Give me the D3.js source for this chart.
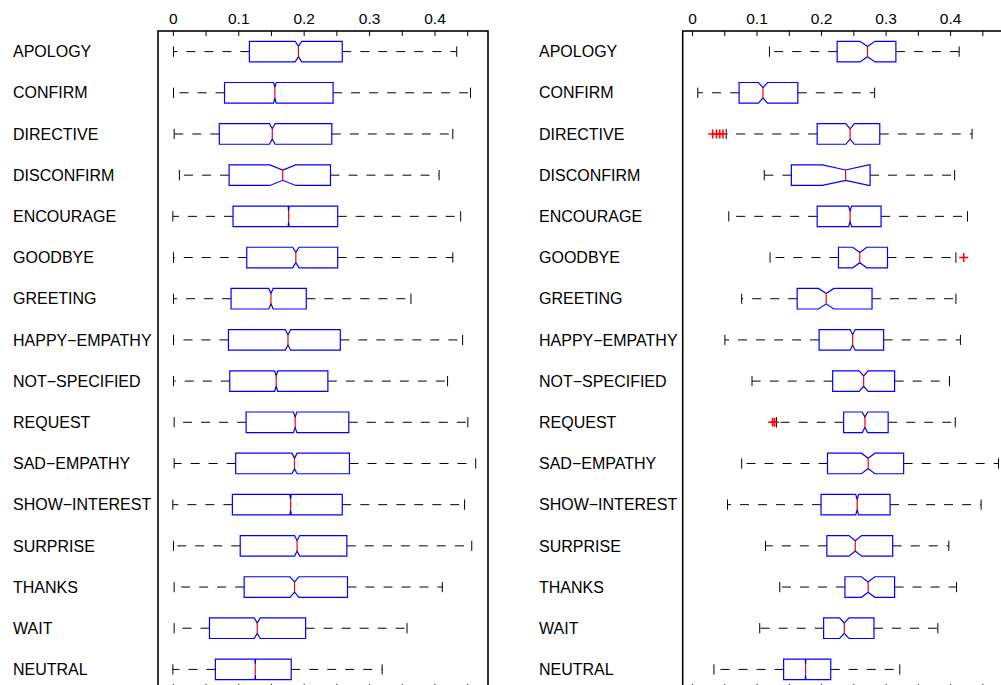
<!DOCTYPE html>
<html lang="en">
  <head>
    <meta charset="utf-8" />
    <title>Notched boxplots</title>
    <script type="text/javascript" src="https://cdn.jsdelivr.net/npm/d3@7"></script>
    <style type="text/css">
      body { margin: 0; background: #fff; }
      svg { display: block; }
    </style>
  </head>
  <body>
    <script type="text/javascript">
      //Width and height
      var w = 1001;
      var h = 685;

      var categories = [
        "APOLOGY", "CONFIRM", "DIRECTIVE", "DISCONFIRM", "ENCOURAGE", "GOODBYE",
        "GREETING", "HAPPY\u2212EMPATHY", "NOT\u2212SPECIFIED", "REQUEST",
        "SAD\u2212EMPATHY", "SHOW\u2212INTEREST", "SURPRISE", "THANKS", "WAIT", "NEUTRAL"
      ];
      var tickLabels = ["0", "0.1", "0.2", "0.3", "0.4"];

      // left panel
      var leftLo = [0.001, 0.001, 0.002, 0.010, 0.000, 0.001, 0.001, 0.001, 0.001, 0.002, 0.002, 0.000, 0.001, 0.002, 0.002, 0.000];
      var leftQ1 = [0.117, 0.079, 0.071, 0.086, 0.092, 0.113, 0.089, 0.085, 0.087, 0.112, 0.096, 0.091, 0.103, 0.109, 0.056, 0.065];
      var leftMed = [0.192, 0.156, 0.152, 0.168, 0.177, 0.188, 0.150, 0.176, 0.158, 0.187, 0.186, 0.180, 0.190, 0.186, 0.129, 0.126];
      var leftQ3 = [0.259, 0.245, 0.243, 0.241, 0.252, 0.252, 0.204, 0.256, 0.237, 0.269, 0.270, 0.259, 0.266, 0.267, 0.203, 0.181];
      var leftHi = [0.434, 0.455, 0.428, 0.407, 0.440, 0.428, 0.364, 0.443, 0.420, 0.451, 0.463, 0.446, 0.457, 0.412, 0.358, 0.320];
      var leftNotch = [0.0050, 0.0020, 0.0043, 0.0197, 0.0008, 0.0049, 0.0034, 0.0042, 0.0023, 0.0026, 0.0039, 0.0011, 0.0039, 0.0069, 0.0046, 0.0005];
      var leftOutliers = [[], [], [], [], [], [], [], [], [], [], [], [], [], [], [], []];

      // right panel
      var rightLo = [0.120, 0.009, 0.053, 0.112, 0.057, 0.121, 0.077, 0.051, 0.093, 0.131, 0.077, 0.055, 0.114, 0.136, 0.105, 0.034];
      var rightQ1 = [0.225, 0.073, 0.194, 0.154, 0.194, 0.227, 0.163, 0.197, 0.218, 0.235, 0.210, 0.200, 0.209, 0.237, 0.204, 0.142];
      var rightMed = [0.272, 0.110, 0.245, 0.238, 0.245, 0.260, 0.208, 0.249, 0.266, 0.268, 0.273, 0.256, 0.253, 0.273, 0.236, 0.176];
      var rightQ3 = [0.316, 0.164, 0.291, 0.276, 0.293, 0.303, 0.279, 0.297, 0.314, 0.304, 0.328, 0.307, 0.311, 0.314, 0.282, 0.215];
      var rightHi = [0.414, 0.283, 0.434, 0.407, 0.427, 0.409, 0.409, 0.416, 0.399, 0.408, 0.475, 0.448, 0.398, 0.410, 0.381, 0.322];
      var rightNotch = [0.0116, 0.0070, 0.0067, 0.0357, 0.0023, 0.0109, 0.0119, 0.0039, 0.0070, 0.0042, 0.0104, 0.0023, 0.0098, 0.0104, 0.0073, 0.0005];
      var rightOutliers = [[], [], [0.032, 0.038, 0.043, 0.048], [], [], [0.421], [], [], [], [0.125, 0.128], [], [], [], [], [], []];

      var panels = [
        { lo: leftLo, q1: leftQ1, med: leftMed, q3: leftQ3, hi: leftHi, notch: leftNotch, out: leftOutliers,
          left: 158, right: 488, domain: [-0.0227, 0.4818], labelX: 13 },
        { lo: rightLo, q1: rightQ1, med: rightMed, q3: rightQ3, hi: rightHi, notch: rightNotch, out: rightOutliers,
          left: 682.7, right: 1012.7, domain: [-0.0144, 0.497], labelX: 539 }
      ];

      var frameTop = 31;
      var frameBottom = 690;

      //Create SVG element
      var svg = d3
        .select("body")
        .append("svg")
        .attr("width", w)
        .attr("height", h);

      var yScale = d3.scaleLinear().domain([0.5, 16.5]).range([frameTop, frameBottom]);

      var tickVals = d3.range(10).map(function (i) { return i * 0.05; });

      panels.forEach(function (p) {
        var xScale = d3.scaleLinear().domain(p.domain).range([p.left, p.right]);
        var g = svg.append("g");

        //Top axis with labels
        var topAxis = d3
          .axisTop(xScale)
          .tickValues(tickVals)
          .tickSize(-5)
          .tickPadding(7.5)
          .tickFormat(function (d, i) {
            return i % 2 === 0 ? tickLabels[i / 2] : "";
          });
        var ta = g.append("g").attr("transform", "translate(0," + frameTop + ")").call(topAxis);
        ta.select(".domain").remove();
        ta.selectAll("text")
          .attr("font-family", "'Liberation Sans', Arial, sans-serif")
          .attr("font-size", "15.5px")
          .attr("fill", "#000");
        ta.selectAll("line").attr("stroke", "#000");

        //Bottom ticks
        var botAxis = d3.axisBottom(xScale).tickValues(tickVals).tickSize(-6).tickFormat("");
        var ba = g.append("g").attr("transform", "translate(0," + frameBottom + ")").call(botAxis);
        ba.select(".domain").remove();
        ba.selectAll("line").attr("stroke", "#000");

        //Frame
        g.append("rect")
          .attr("x", p.left)
          .attr("y", frameTop)
          .attr("width", p.right - p.left)
          .attr("height", frameBottom - frameTop)
          .attr("fill", "none")
          .attr("stroke", "#000")
          .attr("stroke-width", 1.6);

        //Category labels
        g.selectAll("text.cat")
          .data(categories)
          .enter()
          .append("text")
          .attr("class", "cat")
          .text(function (d) { return d; })
          .attr("x", p.labelX)
          .attr("y", function (d, i) { return yScale(i + 1) + 5.7; })
          .attr("font-family", "'Liberation Sans', Arial, sans-serif")
          .attr("font-size", "16px")
          .attr("fill", "#000");

        var rows = categories.map(function (c, i) { return i; });

        //Whiskers
        g.selectAll("line.wlo")
          .data(rows)
          .enter()
          .append("line")
          .attr("x1", function (i) { return xScale(p.q1[i]); })
          .attr("x2", function (i) { return xScale(p.lo[i]); })
          .attr("y1", function (i) { return yScale(i + 1); })
          .attr("y2", function (i) { return yScale(i + 1); })
          .attr("stroke", "#000")
          .attr("stroke-dasharray", "9,9");
        g.selectAll("line.whi")
          .data(rows)
          .enter()
          .append("line")
          .attr("x1", function (i) { return xScale(p.q3[i]); })
          .attr("x2", function (i) { return xScale(p.hi[i]); })
          .attr("y1", function (i) { return yScale(i + 1); })
          .attr("y2", function (i) { return yScale(i + 1); })
          .attr("stroke", "#000")
          .attr("stroke-dasharray", "9,9");

        //Caps
        ["lo", "hi"].forEach(function (k) {
          g.selectAll("line.cap" + k)
            .data(rows)
            .enter()
            .append("line")
            .attr("x1", function (i) { return xScale(p[k][i]); })
            .attr("x2", function (i) { return xScale(p[k][i]); })
            .attr("y1", function (i) { return yScale(i + 1 - 0.125); })
            .attr("y2", function (i) { return yScale(i + 1 + 0.125); })
            .attr("stroke", "#000");
        });

        //Notched boxes
        g.selectAll("path.box")
          .data(rows)
          .enter()
          .append("path")
          .attr("d", function (i) {
            var y0 = yScale(i + 1 - 0.25), y1 = yScale(i + 1 + 0.25);
            var m0 = yScale(i + 1 - 0.125), m1 = yScale(i + 1 + 0.125);
            var a = xScale(p.q1[i]), b = xScale(p.med[i] - p.notch[i]);
            var c = xScale(p.med[i]), d = xScale(p.med[i] + p.notch[i]), e = xScale(p.q3[i]);
            return "M" + a + "," + y0 + "L" + b + "," + y0 + "L" + c + "," + m0 +
              "L" + d + "," + y0 + "L" + e + "," + y0 + "L" + e + "," + y1 +
              "L" + d + "," + y1 + "L" + c + "," + m1 + "L" + b + "," + y1 +
              "L" + a + "," + y1 + "Z";
          })
          .attr("fill", "none")
          .attr("stroke", "#0000ff")
          .attr("stroke-width", 1.2);

        //Medians
        g.selectAll("line.med")
          .data(rows)
          .enter()
          .append("line")
          .attr("x1", function (i) { return xScale(p.med[i]); })
          .attr("x2", function (i) { return xScale(p.med[i]); })
          .attr("y1", function (i) { return yScale(i + 1 - 0.125); })
          .attr("y2", function (i) { return yScale(i + 1 + 0.125); })
          .attr("stroke", "#ff0000")
          .attr("stroke-width", 1.2);

        //Outliers
        var pts = [];
        p.out.forEach(function (arr, i) {
          arr.forEach(function (v) { pts.push({ row: i, v: v }); });
        });
        g.selectAll("path.out")
          .data(pts)
          .enter()
          .append("path")
          .attr("d", function (d) {
            var x = xScale(d.v), y = yScale(d.row + 1);
            return "M" + (x - 4.5) + "," + y + "H" + (x + 4.5) + "M" + x + "," + (y - 4.5) + "V" + (y + 4.5);
          })
          .attr("stroke", "#ff0000")
          .attr("stroke-width", 1.6)
          .attr("fill", "none");
      });
    </script>
  </body>
</html>
